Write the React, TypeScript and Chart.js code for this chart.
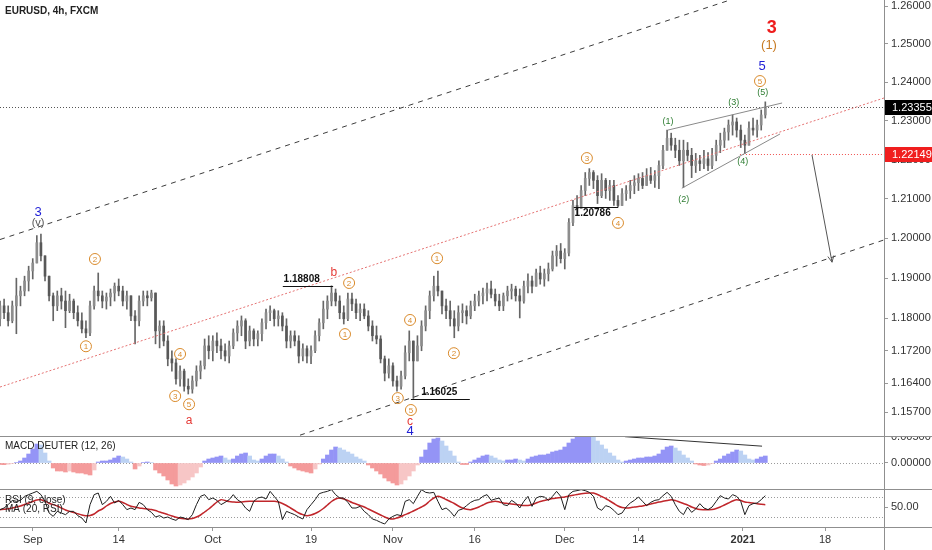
import React, { useEffect, useRef } from 'react';
import { Chart, registerables } from 'chart.js';

Chart.register(...registerables);

const FONT = "'Liberation Sans Narrow', 'Liberation Sans', Arial, sans-serif";
Chart.defaults.font.family = FONT;

// axis ticks
const priceTicks = [1.26, 1.25, 1.24, 1.23, 1.22, 1.21, 1.2, 1.19, 1.18, 1.172, 1.164, 1.157];
const macdTicks = [0, 0.005];
const rsiTicks = [50];
const timeTickIdx = [8, 29, 52, 76, 96, 116, 138, 156, 181.5, 201.6];
const timeTickLabels = ['Sep', '14', 'Oct', '19', 'Nov', '16', 'Dec', '14', '2021', '18'];

const lastPrice = 1.23355;
const waveFourLevel = 1.22149;

// 12h candles, 31 Aug 2020 -> 5 Jan 2021
const opens = [
  1.1799, 1.1831, 1.1814, 1.1794, 1.1831, 1.1856, 1.1868, 1.1893, 1.1918, 1.1938,
  1.1989, 1.1956, 1.1905, 1.1856, 1.1831, 1.1856, 1.1843, 1.1819, 1.1843, 1.1814,
  1.1794, 1.1774, 1.1764, 1.1831, 1.1868, 1.1856, 1.1843, 1.1853, 1.1863, 1.1880,
  1.1868, 1.1843, 1.1856, 1.1806, 1.1794, 1.1843, 1.1856, 1.1851, 1.1863, 1.1769,
  1.1781, 1.1744, 1.1700, 1.1690, 1.1651, 1.1670, 1.1633, 1.1626, 1.1646, 1.1670,
  1.1683, 1.1732, 1.1720, 1.1744, 1.1732, 1.1720, 1.1707, 1.1732, 1.1764, 1.1781,
  1.1794, 1.1744, 1.1769, 1.1749, 1.1762, 1.1789, 1.1814, 1.1819, 1.1799, 1.1806,
  1.1781, 1.1744, 1.1757, 1.1744, 1.1707, 1.1725, 1.1707, 1.1720, 1.1757, 1.1789,
  1.1823, 1.1843, 1.1863, 1.1843, 1.1814, 1.1799, 1.1848, 1.1836, 1.1814, 1.1823,
  1.1806, 1.1781, 1.1757, 1.1749, 1.1700, 1.1665, 1.1683, 1.1646, 1.1633, 1.1658,
  1.1715, 1.1744, 1.1695, 1.1732, 1.1781, 1.1819, 1.1856, 1.1880, 1.1868, 1.1831,
  1.1819, 1.1799, 1.1781, 1.1814, 1.1819, 1.1806, 1.1831, 1.1843, 1.1856, 1.1863,
  1.1873, 1.1860, 1.1843, 1.1831, 1.1856, 1.1868, 1.1873, 1.1856, 1.1843, 1.1880,
  1.1893, 1.1880, 1.1913, 1.1898, 1.1911, 1.1923, 1.1956, 1.1968, 1.1949, 1.1963,
  1.2040, 1.2083, 1.2075, 1.2121, 1.2152, 1.2167, 1.2147, 1.2108, 1.2147, 1.2121,
  1.2134, 1.2096, 1.2083, 1.2113, 1.2121, 1.2134, 1.2141, 1.2152, 1.2134, 1.2159,
  1.2147, 1.2159, 1.2185, 1.2224, 1.2255, 1.2237, 1.2224, 1.2197, 1.2224, 1.2211,
  1.2185, 1.2197, 1.2190, 1.2202, 1.2185, 1.2211, 1.2237, 1.2250, 1.2271, 1.2289,
  1.2297, 1.2276, 1.2250, 1.2237, 1.2281, 1.2276, 1.2289, 1.2315,
];
const highs = [
  1.1843, 1.1848, 1.1831, 1.1843, 1.1900, 1.1880, 1.1905, 1.1930, 1.1949, 1.2007,
  1.2011, 1.1956, 1.1905, 1.1863, 1.1868, 1.1875, 1.1868, 1.1860, 1.1848, 1.1831,
  1.1814, 1.1794, 1.1843, 1.1880, 1.1913, 1.1868, 1.1863, 1.1873, 1.1888, 1.1898,
  1.1880, 1.1868, 1.1856, 1.1819, 1.1856, 1.1868, 1.1868, 1.1870, 1.1863, 1.1794,
  1.1794, 1.1757, 1.1720, 1.1700, 1.1683, 1.1675, 1.1651, 1.1658, 1.1683, 1.1695,
  1.1749, 1.1757, 1.1757, 1.1764, 1.1749, 1.1737, 1.1744, 1.1774, 1.1794, 1.1806,
  1.1799, 1.1781, 1.1774, 1.1769, 1.1799, 1.1823, 1.1831, 1.1823, 1.1819, 1.1814,
  1.1799, 1.1769, 1.1769, 1.1757, 1.1737, 1.1732, 1.1732, 1.1769, 1.1799, 1.1843,
  1.1856, 1.1881, 1.1873, 1.1856, 1.1831, 1.1863, 1.1863, 1.1848, 1.1836, 1.1836,
  1.1819, 1.1794, 1.1781, 1.1757, 1.1707, 1.1700, 1.1690, 1.1658, 1.1670, 1.1732,
  1.1769, 1.1744, 1.1757, 1.1794, 1.1831, 1.1868, 1.1905, 1.1918, 1.1868, 1.1848,
  1.1843, 1.1819, 1.1831, 1.1836, 1.1831, 1.1843, 1.1860, 1.1868, 1.1875, 1.1888,
  1.1893, 1.1873, 1.1860, 1.1863, 1.1880, 1.1885, 1.1880, 1.1873, 1.1893, 1.1911,
  1.1905, 1.1923, 1.1930, 1.1923, 1.1938, 1.1968, 1.1982, 1.1987, 1.1974, 1.2050,
  1.2096, 1.2108, 1.2134, 1.2167, 1.2177, 1.2172, 1.2159, 1.2164, 1.2152, 1.2147,
  1.2147, 1.2108, 1.2126, 1.2134, 1.2147, 1.2159, 1.2164, 1.2167, 1.2177, 1.2180,
  1.2172, 1.2197, 1.2237, 1.2276, 1.2268, 1.2255, 1.2250, 1.2250, 1.2244, 1.2229,
  1.2216, 1.2211, 1.2224, 1.2218, 1.2229, 1.2250, 1.2268, 1.2281, 1.2302, 1.2315,
  1.2307, 1.2289, 1.2263, 1.2297, 1.2307, 1.2302, 1.2328, 1.2349,
];
const lows = [
  1.1781, 1.1799, 1.1781, 1.1789, 1.1762, 1.1831, 1.1856, 1.1868, 1.1898, 1.1938,
  1.1943, 1.1893, 1.1843, 1.1794, 1.1819, 1.1823, 1.1777, 1.1814, 1.1799, 1.1781,
  1.1764, 1.1752, 1.1757, 1.1823, 1.1843, 1.1826, 1.1823, 1.1831, 1.1843, 1.1856,
  1.1831, 1.1823, 1.1794, 1.1737, 1.1781, 1.1831, 1.1831, 1.1843, 1.1737, 1.1727,
  1.1732, 1.1683, 1.1670, 1.1638, 1.1633, 1.1621, 1.1614, 1.1616, 1.1633, 1.1651,
  1.1675, 1.1700, 1.1695, 1.1715, 1.1700, 1.1695, 1.1690, 1.1725, 1.1744, 1.1757,
  1.1725, 1.1732, 1.1732, 1.1732, 1.1744, 1.1774, 1.1794, 1.1781, 1.1781, 1.1769,
  1.1727, 1.1727, 1.1732, 1.1690, 1.1695, 1.1690, 1.1688, 1.1715, 1.1744, 1.1774,
  1.1799, 1.1831, 1.1831, 1.1799, 1.1786, 1.1794, 1.1819, 1.1799, 1.1794, 1.1799,
  1.1769, 1.1744, 1.1737, 1.1690, 1.1646, 1.1653, 1.1633, 1.1621, 1.1626, 1.1651,
  1.1695, 1.1603, 1.1695, 1.1720, 1.1769, 1.1799, 1.1843, 1.1856, 1.1811, 1.1799,
  1.1781, 1.1752, 1.1769, 1.1789, 1.1786, 1.1799, 1.1819, 1.1831, 1.1836, 1.1843,
  1.1851, 1.1831, 1.1819, 1.1819, 1.1843, 1.1848, 1.1843, 1.1801, 1.1838, 1.1863,
  1.1863, 1.1880, 1.1885, 1.1880, 1.1893, 1.1918, 1.1930, 1.1938, 1.1923, 1.1956,
  1.2032, 1.2057, 1.2083, 1.2108, 1.2134, 1.2126, 1.2088, 1.2103, 1.2101, 1.2096,
  1.2083, 1.2079, 1.2083, 1.2096, 1.2101, 1.2113, 1.2121, 1.2126, 1.2134, 1.2139,
  1.2129, 1.2126, 1.2177, 1.2224, 1.2224, 1.2205, 1.2185, 1.2129, 1.2197, 1.2154,
  1.2167, 1.2172, 1.2177, 1.2172, 1.2177, 1.2197, 1.2218, 1.2231, 1.2250, 1.2263,
  1.2258, 1.2231, 1.2215, 1.2237, 1.2263, 1.2258, 1.2276, 1.2307,
];
const closes = [
  1.1831, 1.1814, 1.1794, 1.1831, 1.1856, 1.1868, 1.1893, 1.1918, 1.1938, 1.1989,
  1.1956, 1.1905, 1.1856, 1.1831, 1.1856, 1.1843, 1.1819, 1.1843, 1.1814, 1.1794,
  1.1774, 1.1764, 1.1831, 1.1868, 1.1856, 1.1843, 1.1853, 1.1863, 1.1880, 1.1868,
  1.1843, 1.1856, 1.1806, 1.1794, 1.1843, 1.1856, 1.1851, 1.1863, 1.1769, 1.1781,
  1.1744, 1.1700, 1.1690, 1.1651, 1.1670, 1.1633, 1.1626, 1.1646, 1.1670, 1.1683,
  1.1732, 1.1720, 1.1744, 1.1732, 1.1720, 1.1707, 1.1732, 1.1764, 1.1781, 1.1794,
  1.1744, 1.1769, 1.1749, 1.1762, 1.1789, 1.1814, 1.1819, 1.1799, 1.1806, 1.1781,
  1.1744, 1.1757, 1.1744, 1.1707, 1.1725, 1.1707, 1.1720, 1.1757, 1.1789, 1.1823,
  1.1843, 1.1863, 1.1843, 1.1814, 1.1799, 1.1848, 1.1836, 1.1814, 1.1823, 1.1806,
  1.1781, 1.1757, 1.1749, 1.1700, 1.1665, 1.1683, 1.1646, 1.1633, 1.1658, 1.1715,
  1.1744, 1.1695, 1.1732, 1.1781, 1.1819, 1.1856, 1.1880, 1.1868, 1.1831, 1.1819,
  1.1799, 1.1781, 1.1814, 1.1819, 1.1806, 1.1831, 1.1843, 1.1856, 1.1863, 1.1873,
  1.1860, 1.1843, 1.1831, 1.1856, 1.1868, 1.1873, 1.1856, 1.1843, 1.1880, 1.1893,
  1.1880, 1.1913, 1.1898, 1.1911, 1.1923, 1.1956, 1.1968, 1.1949, 1.1963, 1.2040,
  1.2083, 1.2075, 1.2121, 1.2152, 1.2167, 1.2147, 1.2108, 1.2147, 1.2121, 1.2134,
  1.2096, 1.2083, 1.2113, 1.2121, 1.2134, 1.2141, 1.2152, 1.2134, 1.2159, 1.2147,
  1.2159, 1.2185, 1.2224, 1.2255, 1.2237, 1.2224, 1.2197, 1.2224, 1.2211, 1.2185,
  1.2197, 1.2190, 1.2202, 1.2185, 1.2211, 1.2237, 1.2250, 1.2271, 1.2289, 1.2297,
  1.2276, 1.2250, 1.2237, 1.2281, 1.2276, 1.2289, 1.2315, 1.2336,
];

// MACD Deuter (12, 26) histogram
const macdHist = [
  -0.00029, -0.00032, -0.00023, -0.0001, 0.0001, 0.00038, 0.00095, 0.00171, 0.00266, 0.00361,
  0.00342, 0.0019, 0.00038, -0.00095, -0.00152, -0.00152, -0.00171, -0.00152, -0.00171, -0.0019,
  -0.0019, -0.00209, -0.00228, -0.00133, 0.00019, 0.00038, 0.00038, 0.00057, 0.00095, 0.00133,
  0.00114, 0.00076, 0.00019, -0.00114, -0.00057, 0.0001, 0.00019, 0.0001, -0.00133, -0.0019,
  -0.00247, -0.00323, -0.00399, -0.00437, -0.00418, -0.0038, -0.00323, -0.00266, -0.0019, -0.00076,
  0.00038, 0.00076, 0.00095, 0.00114, 0.00133, 0.00095, 0.00057, 0.00076, 0.00133, 0.00171,
  0.0019, 0.00133, 0.00057, 0.00038, 0.00076, 0.00133, 0.00171, 0.00171, 0.00133, 0.00076,
  0.00019, -0.00057, -0.00095, -0.00133, -0.00152, -0.00171, -0.0019, -0.00114, -0.00019, 0.00076,
  0.00152, 0.00247, 0.00304, 0.00285, 0.00247, 0.00209, 0.00171, 0.00114, 0.00076, 0.00038,
  -0.00038, -0.00095, -0.00152, -0.00209, -0.00285, -0.00342, -0.0038, -0.00418, -0.00399, -0.00323,
  -0.00247, -0.00152, -0.00038, 0.00114, 0.00247, 0.0038, 0.00456, 0.00475, 0.00418, 0.00323,
  0.00228, 0.00133, 0.00019, -0.00029, -0.00029, 0.00019, 0.00057, 0.00095, 0.00133, 0.00152,
  0.00133, 0.00095, 0.00057, 0.00038, 0.00057, 0.00057, 0.00076, 0.00057, 0.00038, 0.00076,
  0.00114, 0.00133, 0.00152, 0.00152, 0.00171, 0.00209, 0.00228, 0.00247, 0.00304, 0.0038,
  0.00456, 0.00494, 0.00513, 0.00532, 0.00532, 0.00494, 0.00418, 0.00342, 0.00266, 0.0019,
  0.00133, 0.00057, 0.00019, 0.00038, 0.00057, 0.00076, 0.00095, 0.00095, 0.00114, 0.00114,
  0.00133, 0.00171, 0.00247, 0.00304, 0.00323, 0.00285, 0.00228, 0.00152, 0.00095, 0.00038,
  -0.00019, -0.00038, -0.00048, -0.00038, -0.0001, 0.00038, 0.00076, 0.00133, 0.00171, 0.00209,
  0.00247, 0.00228, 0.00152, 0.00076, 0.00057, 0.00076, 0.00114, 0.00133,
];

// RSI (9, close) and its MA (20)
const rsiVals = [
  44.7, 48, 54.7, 63.3, 61.3, 63.3, 71.3, 74.7, 78, 81.3,
  74.7, 61.3, 38, 31.3, 41.3, 38, 34.7, 41.3, 41.3, 32.7,
  28, 18, 54.7, 74.7, 78, 54.7, 61.3, 71.3, 58, 63.3,
  54.7, 44.7, 48, 44.7, 59.3, 54.7, 44.7, 39.3, 30, 32.7,
  28, 30, 26, 23.3, 30, 28, 24.7, 34.7, 54.7, 71.3,
  74.7, 64.7, 68, 63.3, 54.7, 59.3, 64.7, 74.7, 64.7, 59.3,
  48, 41.3, 61.3, 68, 70, 66, 81.3, 71.3, 61.3, 24.7,
  41.3, 38, 34.7, 30, 26, 44.7, 54.7, 64.7, 76.7, 79.3,
  81.3, 84.7, 74.7, 68, 68, 59.3, 48, 48, 51.3, 41.3,
  34.7, 26, 23.3, 19.3, 16, 26, 31.3, 34.7, 32.7, 61.3,
  64.7, 56.7, 71.3, 84.7, 79.3, 78, 79.3, 61.3, 44.7, 48,
  41.3, 31.3, 43.3, 46, 52.7, 59.3, 63.3, 64.7, 71.3, 74.7,
  63.3, 66, 68, 54.7, 52.7, 63.3, 58, 48, 61.3, 71.3,
  51.3, 68, 71.3, 70, 63.3, 71.3, 81.3, 71.3, 44.7, 74.7,
  81.3, 82.7, 84.7, 82.7, 79.3, 71.3, 48, 43.3, 52.7, 50,
  43.3, 34.7, 38, 50, 58, 63.3, 70, 61.3, 52.7, 59.3,
  63.3, 64.7, 72.7, 79.3, 71.3, 54.7, 41.3, 34.7, 50, 39.3,
  46, 56.7, 48, 44.7, 50, 61.3, 72.7, 68, 66, 74.7,
  71.3, 61.3, 34.7, 52.7, 56.7, 58, 64.7, 72.7,
];
const rsiMa = [
  44.7, 45.5, 46.5, 48, 50, 52, 55, 58, 61, 64,
  64.7, 62, 57.5, 54.7, 52, 48, 44, 41.3, 39, 36.5,
  34, 32.7, 33, 36, 42, 46, 52, 57, 60, 61.3,
  59, 55, 51.5, 50, 48, 47, 46, 45, 43, 40,
  37.5, 34.7, 32, 29.5, 27.5, 26.5, 26, 27, 30, 34,
  40, 46, 53, 60, 64.7, 63, 61, 60, 59.3, 60,
  61, 61.3, 61.3, 61.3, 61.3, 61.3, 61.3, 61.3, 60, 57,
  53, 48, 43, 38, 34.7, 32.7, 34, 37, 41.3, 47,
  54, 61, 66, 68, 66, 63, 59, 56, 53, 50,
  46, 42, 38, 34, 30, 27, 26, 28, 31, 34.7,
  38, 42, 46, 50, 54.7, 62, 68, 71.3, 69, 65,
  61, 57, 52, 48, 45.5, 44.7, 47, 50, 54, 58,
  60, 61.3, 60, 58, 57, 56, 55, 54, 53, 53,
  55, 58, 61, 63, 65, 67, 68, 69, 70, 72,
  73.5, 75, 76.5, 77.5, 78, 78, 75, 71, 67, 62,
  57, 52, 49, 48, 48.5, 50, 51, 52, 54, 56,
  58, 60, 61.3, 63, 64.7, 63, 60, 57, 54, 50,
  47, 45, 44.7, 44.7, 45, 47, 50, 54, 58, 62,
  64.7, 63, 60, 59, 58, 56.5, 55.5, 54.7,
];

// drawing tools on the price pane, in (bar index, price)
const trendLines = [
  { a: [0, 1.1997], b: [178.4, 1.2616], color: '#3c3c3c', dash: [5, 5] },
  { a: [73.3, 1.1514], b: [216, 1.1996], color: '#3c3c3c', dash: [5, 5] },
  { a: [0, 1.1631], b: [216, 1.2359], color: '#e57373', dash: [2, 2] },
  { a: [163.2, 1.2276], b: [191.1, 1.2346], color: '#8a8a8a', dash: [] },
  { a: [166.6, 1.2127], b: [190.6, 1.2266], color: '#8a8a8a', dash: [] },
];
const projection = { a: [198.4, 1.2212], b: [203.3, 1.194] };
const levelMarks = [
  { p: 1.18808, from: 69.1, to: 81.4, textAt: 69.3, above: true },
  { p: 1.16025, from: 100.4, to: 114.8, textAt: 102.9, above: true },
  { p: 1.20786, from: 140.2, to: 151.0, textAt: 140.4, above: false },
];
const waveLabels = [
  { t: '3', x: 9.3, p: 1.2066, kind: 'blue' },
  { t: '(v)', x: 9.3, p: 1.2039, kind: 'minor' },
  { t: '1', x: 21.0, p: 1.1731, kind: 'circle' },
  { t: '2', x: 23.2, p: 1.1948, kind: 'circle' },
  { t: '3', x: 42.8, p: 1.1609, kind: 'circle' },
  { t: '4', x: 44.0, p: 1.1712, kind: 'circle' },
  { t: '5', x: 46.2, p: 1.1589, kind: 'circle' },
  { t: 'a', x: 46.2, p: 1.1548, kind: 'red' },
  { t: 'b', x: 81.6, p: 1.1913, kind: 'red' },
  { t: '2', x: 85.3, p: 1.1888, kind: 'circle' },
  { t: '1', x: 84.3, p: 1.1761, kind: 'circle' },
  { t: '3', x: 97.2, p: 1.1604, kind: 'circle' },
  { t: '4', x: 100.2, p: 1.1796, kind: 'circle' },
  { t: '5', x: 100.4, p: 1.1575, kind: 'circle' },
  { t: 'c', x: 100.2, p: 1.1546, kind: 'red' },
  { t: '4', x: 100.2, p: 1.1522, kind: 'blue' },
  { t: '1', x: 106.8, p: 1.195, kind: 'circle' },
  { t: '2', x: 110.9, p: 1.1714, kind: 'circle' },
  { t: '3', x: 143.4, p: 1.2204, kind: 'circle' },
  { t: '4', x: 151.0, p: 1.2039, kind: 'circle' },
  { t: '(1)', x: 163.2, p: 1.2299, kind: 'green' },
  { t: '(2)', x: 167.1, p: 1.2099, kind: 'green' },
  { t: '(3)', x: 179.3, p: 1.2346, kind: 'green' },
  { t: '(4)', x: 181.5, p: 1.2196, kind: 'green' },
  { t: '(5)', x: 186.4, p: 1.2372, kind: 'green' },
  { t: '5', x: 185.7, p: 1.2403, kind: 'circle' },
  { t: '5', x: 186.2, p: 1.2442, kind: 'blue' },
  { t: '(1)', x: 187.9, p: 1.2495, kind: 'brown' },
  { t: '3', x: 188.6, p: 1.2542, kind: 'bigred' },
];
const macdTrend = { a: [152.7, 0.005], b: [186.2, 0.0032] };

const X_MAX = 216;
const AXIS_W = 48;
const ORANGE = '#d98a2b';
const labelStyle: any = {
  blue: { font: '13px ' + FONT, color: '#1f1fd6' },
  minor: { font: '11px ' + FONT, color: '#555' },
  red: { font: '12px ' + FONT, color: '#e53935' },
  green: { font: '9px ' + FONT, color: '#2e7d32' },
  brown: { font: '13px ' + FONT, color: '#c77a22' },
  bigred: { font: 'bold 18px ' + FONT, color: '#ee1c1c' },
};

const idx = closes.map((_, i) => i);

const yAxisFit = (a: any) => {
  a.width = AXIS_W;
  a.paddingTop = 0;
  a.paddingBottom = 0;
};
const axisTicks = (fmt: (v: number) => string) => ({
  padding: 3,
  color: '#333',
  autoSkip: false,
  font: { family: FONT, size: 11 },
  callback: (v: any) => fmt(Number(v)),
});
const axisGrid = { drawOnChartArea: false, drawTicks: true, tickLength: 4, color: '#999' };

const framePlugin = (id: string, top: boolean, bottom: boolean) => ({
  id,
  afterDraw(chart: any) {
    const { ctx, width, height, chartArea } = chart;
    ctx.save();
    ctx.strokeStyle = '#8f8f8f';
    ctx.lineWidth = 1;
    ctx.beginPath();
    ctx.moveTo(chartArea.right + 0.5, 0);
    ctx.lineTo(chartArea.right + 0.5, height);
    if (top) {
      ctx.moveTo(0, 0.5);
      ctx.lineTo(width, 0.5);
    }
    if (bottom) {
      ctx.moveTo(0, chartArea.bottom + 0.5);
      ctx.lineTo(width, chartArea.bottom + 0.5);
    }
    ctx.stroke();
    ctx.restore();
  },
});

const titlePlugin = (id: string, lines: string[], y0: number, step: number, weight = 'normal') => ({
  id,
  afterDraw(chart: any) {
    const { ctx } = chart;
    ctx.save();
    ctx.fillStyle = '#222';
    ctx.font = weight + ' 10px ' + FONT;
    ctx.textBaseline = 'middle';
    lines.forEach((t, k) => ctx.fillText(t, 5, y0 + k * step));
    ctx.restore();
  },
});

const dottedLevels = (id: string, levels: number[]) => ({
  id,
  beforeDatasetsDraw(chart: any) {
    const { ctx, chartArea, scales } = chart;
    ctx.save();
    ctx.strokeStyle = '#9a9a9a';
    ctx.setLineDash([1, 2]);
    ctx.lineWidth = 1;
    levels.forEach((v) => {
      const y = Math.round(scales.y.getPixelForValue(v)) + 0.5;
      ctx.beginPath();
      ctx.moveTo(chartArea.left, y);
      ctx.lineTo(chartArea.right, y);
      ctx.stroke();
    });
    ctx.restore();
  },
});

const annotationsPlugin = {
  id: 'annotations',
  afterDatasetsDraw(chart: any) {
    const { ctx, chartArea } = chart;
    const xs = chart.scales.x;
    const ys = chart.scales.y;
    const pt = (x: number, p: number) => [xs.getPixelForValue(x), ys.getPixelForValue(p)];
    ctx.save();
    ctx.beginPath();
    ctx.rect(chartArea.left, chartArea.top, chartArea.right - chartArea.left, chartArea.bottom - chartArea.top);
    ctx.clip();
    ctx.lineWidth = 1;

    // horizontal price lines
    const hLine = (p: number, x0: number, color: string) => {
      const y = Math.round(ys.getPixelForValue(p)) + 0.5;
      ctx.strokeStyle = color;
      ctx.setLineDash([1, 2]);
      ctx.beginPath();
      ctx.moveTo(xs.getPixelForValue(x0), y);
      ctx.lineTo(chartArea.right, y);
      ctx.stroke();
    };
    hLine(lastPrice, 0, '#555');
    hLine(waveFourLevel, 180.8, '#ef5350');

    trendLines.forEach((l) => {
      const [x1, y1] = pt(l.a[0], l.a[1]);
      const [x2, y2] = pt(l.b[0], l.b[1]);
      ctx.strokeStyle = l.color;
      ctx.setLineDash(l.dash);
      ctx.beginPath();
      ctx.moveTo(x1, y1);
      ctx.lineTo(x2, y2);
      ctx.stroke();
    });
    ctx.setLineDash([]);

    // projection arrow
    const [ax, ay] = pt(projection.a[0], projection.a[1]);
    const [bx, by] = pt(projection.b[0], projection.b[1]);
    ctx.strokeStyle = '#555';
    ctx.beginPath();
    ctx.moveTo(ax, ay);
    ctx.lineTo(bx, by);
    const ang = Math.atan2(by - ay, bx - ax);
    ctx.moveTo(bx - 7 * Math.cos(ang - 0.45), by - 7 * Math.sin(ang - 0.45));
    ctx.lineTo(bx, by);
    ctx.lineTo(bx - 7 * Math.cos(ang + 0.45), by - 7 * Math.sin(ang + 0.45));
    ctx.stroke();

    // marked levels
    levelMarks.forEach((m) => {
      const y = Math.round(ys.getPixelForValue(m.p)) + 0.5;
      ctx.strokeStyle = '#111';
      ctx.beginPath();
      ctx.moveTo(xs.getPixelForValue(m.from), y);
      ctx.lineTo(xs.getPixelForValue(m.to), y);
      ctx.stroke();
      ctx.fillStyle = '#111';
      ctx.font = 'bold 10px ' + FONT;
      ctx.textAlign = 'left';
      ctx.textBaseline = m.above ? 'bottom' : 'top';
      ctx.fillText(m.p.toFixed(5), xs.getPixelForValue(m.textAt), m.above ? y - 2 : y + 1);
    });

    // wave counts
    ctx.textAlign = 'center';
    ctx.textBaseline = 'middle';
    waveLabels.forEach((w) => {
      const [x, y] = pt(w.x, w.p);
      if (w.kind === 'circle') {
        ctx.strokeStyle = ORANGE;
        ctx.beginPath();
        ctx.arc(x, y, 5.5, 0, Math.PI * 2);
        ctx.stroke();
        ctx.fillStyle = ORANGE;
        ctx.font = '8px ' + FONT;
        ctx.fillText(w.t, x, y + 0.5);
      } else {
        const st = labelStyle[w.kind];
        ctx.fillStyle = st.color;
        ctx.font = st.font;
        ctx.fillText(w.t, x, y);
      }
    });
    ctx.restore();
  },
  afterDraw(chart: any) {
    const { ctx, chartArea, width } = chart;
    const ys = chart.scales.y;
    const box = (p: number, bg: string) => {
      const y = ys.getPixelForValue(p);
      ctx.fillStyle = bg;
      ctx.fillRect(chartArea.right + 1, Math.round(y) - 7, width - chartArea.right - 1, 15);
      ctx.fillStyle = '#fff';
      ctx.font = '11px ' + FONT;
      ctx.textAlign = 'left';
      ctx.textBaseline = 'middle';
      ctx.fillText(p.toFixed(5), chartArea.right + 8, Math.round(y) + 0.5);
    };
    ctx.save();
    box(lastPrice, '#000');
    box(waveFourLevel, '#f01e1e');
    ctx.restore();
  },
};

const macdTrendPlugin = {
  id: 'macdTrend',
  afterDatasetsDraw(chart: any) {
    const { ctx } = chart;
    const xs = chart.scales.x;
    const ys = chart.scales.y;
    ctx.save();
    ctx.strokeStyle = '#333';
    ctx.lineWidth = 1;
    ctx.beginPath();
    ctx.moveTo(xs.getPixelForValue(macdTrend.a[0]), ys.getPixelForValue(macdTrend.a[1]));
    ctx.lineTo(xs.getPixelForValue(macdTrend.b[0]), ys.getPixelForValue(macdTrend.b[1]));
    ctx.stroke();
    ctx.restore();
  },
};

const commonOpts = {
  animation: false as const,
  responsive: false,
  maintainAspectRatio: false,
  events: [] as any[],
  layout: { padding: 0, autoPadding: false },
  plugins: { legend: { display: false }, tooltip: { enabled: false } },
};
const hiddenX = { type: 'linear' as const, min: 0, max: X_MAX, display: false, offset: false, bounds: 'data' as const };

const App = () => {
  const mainRef = useRef<HTMLCanvasElement | null>(null);
  const macdRef = useRef<HTMLCanvasElement | null>(null);
  const rsiRef = useRef<HTMLCanvasElement | null>(null);

  useEffect(() => {
    document.body.style.margin = '0';
    if (!mainRef.current || !macdRef.current || !rsiRef.current) return;

    const up = (i: number) => closes[i] >= opens[i];

    const mainChart = new Chart(mainRef.current, {
      type: 'bar',
      data: {
        datasets: [
          {
            data: idx.map((i) => ({ x: i, y: [opens[i], closes[i]] })) as any,
            backgroundColor: (c: any) => (up(c.dataIndex) ? '#8d8d8d' : '#585858'),
            barThickness: 2,
            minBarLength: 1,
            grouped: false,
            order: 0,
          },
          {
            data: idx.map((i) => ({ x: i, y: [lows[i], highs[i]] })) as any,
            backgroundColor: '#666',
            barThickness: 1,
            grouped: false,
            order: 1,
          },
        ],
      },
      options: {
        ...commonOpts,
        scales: {
          x: hiddenX,
          y: {
            type: 'logarithmic',
            position: 'right',
            min: 1.1512,
            max: 1.2616,
            bounds: 'data',
            afterBuildTicks: (a: any) => {
              a.ticks = priceTicks.map((v) => ({ value: v }));
            },
            afterFit: yAxisFit,
            grid: axisGrid,
            border: { display: false },
            ticks: axisTicks((v) => v.toFixed(5)),
          },
        },
      } as any,
      plugins: [framePlugin('frameMain', false, false), annotationsPlugin, titlePlugin('titleMain', ['EURUSD, 4h, FXCM'], 11, 0, 'bold')],
    });

    const macdChart = new Chart(macdRef.current, {
      type: 'bar',
      data: {
        datasets: [
          {
            data: idx.map((i) => ({ x: i, y: macdHist[i] })) as any,
            backgroundColor: (c: any) => {
              const i = c.dataIndex;
              const v = macdHist[i];
              const prev = i > 0 ? macdHist[i - 1] : v;
              if (v >= 0) return v >= prev ? '#9494f6' : '#bcd2f3';
              return v <= prev ? '#f49b9b' : '#f7c6c6';
            },
            barThickness: 4,
            grouped: false,
          },
        ],
      },
      options: {
        ...commonOpts,
        scales: {
          x: hiddenX,
          y: {
            type: 'linear',
            position: 'right',
            min: -0.00494,
            max: 0.00513,
            bounds: 'data',
            afterBuildTicks: (a: any) => {
              a.ticks = macdTicks.map((v) => ({ value: v }));
            },
            afterFit: yAxisFit,
            grid: axisGrid,
            border: { display: false },
            ticks: axisTicks((v) => v.toFixed(5)),
          },
        },
      } as any,
      plugins: [
        dottedLevels('macdZero', [0]),
        macdTrendPlugin,
        framePlugin('frameMacd', true, false),
        titlePlugin('titleMacd', ['MACD DEUTER (12, 26)'], 10, 0),
      ],
    });

    const rsiChart = new Chart(rsiRef.current, {
      type: 'line',
      data: {
        datasets: [
          {
            data: idx.map((i) => ({ x: i, y: rsiVals[i] })),
            borderColor: '#1e1e1e',
            borderWidth: 1,
            pointRadius: 0,
            tension: 0,
          },
          {
            data: idx.map((i) => ({ x: i, y: rsiMa[i] })),
            borderColor: '#c0262b',
            borderWidth: 1.5,
            pointRadius: 0,
            tension: 0.3,
          },
        ],
      },
      options: {
        ...commonOpts,
        scales: {
          x: {
            type: 'linear',
            min: 0,
            max: X_MAX,
            offset: false,
            bounds: 'data',
            position: 'bottom',
            afterBuildTicks: (a: any) => {
              a.ticks = timeTickIdx.map((v) => ({ value: v }));
            },
            afterFit: (a: any) => {
              a.height = 23;
              a.paddingLeft = 0;
              a.paddingRight = 0;
            },
            grid: axisGrid,
            border: { display: false },
            ticks: {
              padding: 2,
              color: '#333',
              autoSkip: false,
              maxRotation: 0,
              font: (c: any) => ({ family: FONT, size: 11, weight: timeTickLabels[c.index] === '2021' ? 'bold' : 'normal' }),
              callback: (_v: any, i: number) => timeTickLabels[i],
            },
          },
          y: {
            type: 'linear',
            position: 'right',
            min: 10,
            max: 86,
            bounds: 'data',
            afterBuildTicks: (a: any) => {
              a.ticks = rsiTicks.map((v) => ({ value: v }));
            },
            afterFit: yAxisFit,
            grid: axisGrid,
            border: { display: false },
            ticks: axisTicks((v) => v.toFixed(2)),
          },
        },
      } as any,
      plugins: [
        dottedLevels('rsiBands', [70, 30]),
        framePlugin('frameRsi', true, true),
        titlePlugin('titleRsi', ['RSI (9, close)', 'MA (20, RSI)'], 11, 9),
      ],
    });

    return () => {
      mainChart.destroy();
      macdChart.destroy();
      rsiChart.destroy();
    };
  }, []);

  return (
    <div style={{ position: 'relative', width: 932, height: 550, background: '#fff' }}>
      <canvas ref={mainRef} width={932} height={436} style={{ position: 'absolute', left: 0, top: 0 }} />
      <canvas ref={macdRef} width={932} height={53} style={{ position: 'absolute', left: 0, top: 436 }} />
      <canvas ref={rsiRef} width={932} height={61} style={{ position: 'absolute', left: 0, top: 489 }} />
    </div>
  );
};

export default App;
